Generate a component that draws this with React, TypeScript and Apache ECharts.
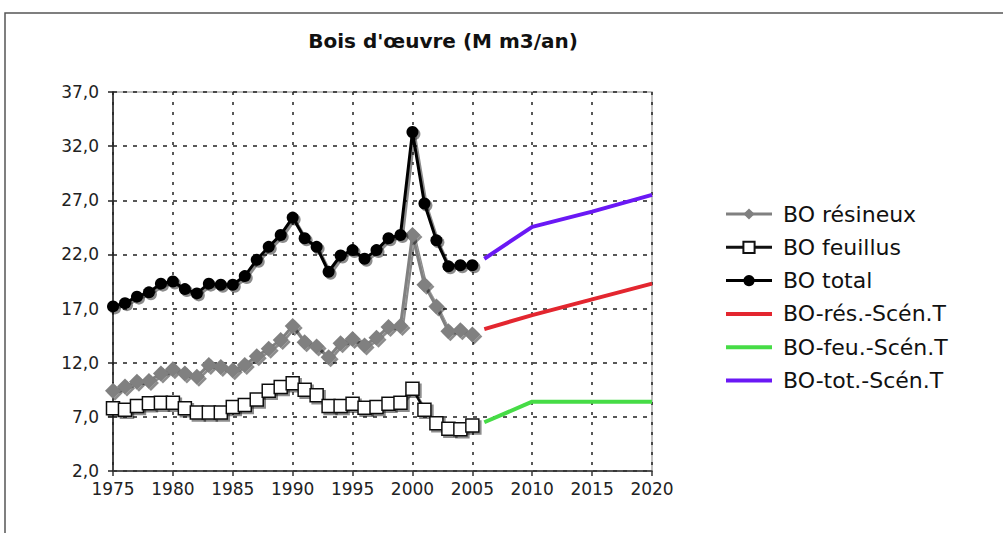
import React, { useEffect, useRef } from "react";
import * as echarts from "echarts";

const years = [
  1975, 1976, 1977, 1978, 1979, 1980, 1981, 1982, 1983, 1984, 1985, 1986, 1987, 1988, 1989, 1990,
  1991, 1992, 1993, 1994, 1995, 1996, 1997, 1998, 1999, 2000, 2001, 2002, 2003, 2004, 2005,
];
const resineux = [
  9.4, 9.8, 10.25, 10.3, 11.0, 11.4, 11.0, 10.7, 11.8, 11.6, 11.3, 11.8, 12.6, 13.3, 14.1, 15.4,
  13.9, 13.5, 12.5, 13.8, 14.2, 13.6, 14.3, 15.3, 15.4, 23.8, 19.2, 17.2, 14.9, 15.0, 14.6,
];
const feuillus = [
  7.8, 7.65, 8.0, 8.25, 8.3, 8.3, 7.8, 7.4, 7.4, 7.4, 7.9, 8.1, 8.6, 9.4, 9.75, 10.1, 9.5, 9.0,
  8.0, 8.0, 8.2, 7.85, 7.9, 8.2, 8.3, 9.6, 7.65, 6.4, 5.9, 5.85, 6.2,
];
const total = [
  17.2, 17.5, 18.1, 18.5, 19.3, 19.5, 18.8, 18.4, 19.3, 19.2, 19.2, 20.0, 21.5, 22.7, 23.8, 25.4,
  23.5, 22.7, 20.4, 21.9, 22.4, 21.6, 22.4, 23.5, 23.8, 33.3, 26.7, 23.3, 20.9, 21.0, 21.0,
];
const scenYears = [2006, 2010, 2015, 2020];
const scenRes = [15.1, 16.4, 17.85, 19.3];
const scenFeu = [6.5, 8.4, 8.4, 8.4];
const scenTot = [21.6, 24.55, 25.95, 27.5];

const seriesNames = [
  "BO résineux",
  "BO feuillus",
  "BO total",
  "BO-rés.-Scén.T",
  "BO-feu.-Scén.T",
  "BO-tot.-Scén.T",
];

const pair = (xs: number[], ys: number[]) => xs.map((x, i) => [x, ys[i]]);

export default function App() {
  const ref = useRef<HTMLDivElement>(null);
  useEffect(() => {
    if (!ref.current) return;
    const chart = echarts.init(ref.current, null, { renderer: "svg" });
    const font = "DejaVu Sans, Verdana, sans-serif";
    const shadow = {
      shadowColor: "rgba(0,0,0,0.45)",
      shadowOffsetX: 2,
      shadowOffsetY: 2,
      shadowBlur: 1,
    };
    chart.setOption({
      animation: false,
      backgroundColor: "#fff",
      graphic: [
        {
          type: "rect",
          shape: { x: 5, y: 13, width: 1100, height: 600 },
          style: { fill: "none", stroke: "#555", lineWidth: 1.5 },
          silent: true,
        },
        {
          type: "text",
          x: 443,
          y: 41,
          style: {
            text: "Bois d'œuvre (M m3/an)",
            fontFamily: font,
            fontWeight: "bold",
            fontSize: 20,
            fill: "#111",
            textAlign: "center",
            textVerticalAlign: "middle",
          },
        },
      ],
      grid: {
        left: 113,
        right: 351,
        top: 92,
        bottom: 62,
        show: true,
        borderColor: "#aaa",
        borderWidth: 1.5,
      },
      legend: {
        data: [
          { name: seriesNames[0], lineStyle: { width: 3 } },
          { name: seriesNames[1], lineStyle: { width: 3 } },
          { name: seriesNames[2], lineStyle: { width: 3 } },
          { name: seriesNames[3], itemStyle: { opacity: 0 }, lineStyle: { width: 4 } },
          { name: seriesNames[4], itemStyle: { opacity: 0 }, lineStyle: { width: 4 } },
          { name: seriesNames[5], itemStyle: { opacity: 0 }, lineStyle: { width: 4 } },
        ],
        orient: "vertical",
        left: 724,
        top: 202,
        padding: 0,
        itemWidth: 46,
        itemHeight: 14,
        itemGap: 9.3,
        textStyle: {
          fontFamily: font,
          fontSize: 22,
          color: "#111",
          padding: [0, 0, 0, 6],
          lineHeight: 24,
        },
      },
      xAxis: {
        type: "value",
        min: 1975,
        max: 2020,
        interval: 5,
        axisLine: { show: true, lineStyle: { color: "#333", width: 1.5 } },
        axisTick: { show: true, length: 5, lineStyle: { color: "#333", width: 1.5 } },
        axisLabel: {
          formatter: (v: number) => String(v),
          fontFamily: font,
          fontSize: 17,
          color: "#222",
          margin: 9,
        },
        splitLine: {
          show: true,
          lineStyle: { color: "#222", type: [3, 7], width: 1.5 },
        },
      },
      yAxis: {
        type: "value",
        min: 2,
        max: 37,
        interval: 5,
        axisLine: { show: true, lineStyle: { color: "#222", width: 1.5 } },
        axisTick: { show: true, length: 5, lineStyle: { color: "#222", width: 1.5 } },
        axisLabel: {
          formatter: (v: number) => v.toFixed(1).replace(".", ","),
          fontFamily: font,
          fontSize: 17,
          color: "#222",
          margin: 14,
        },
        splitLine: {
          show: true,
          lineStyle: { color: "#222", type: [4, 6], width: 1.5 },
        },
      },
      series: [
        {
          name: seriesNames[0],
          type: "line",
          data: pair(years, resineux),
          symbol: "diamond",
          symbolSize: 16,
          itemStyle: { color: "#808080", ...shadow },
          lineStyle: { color: "#808080", width: 3, ...shadow },
          z: 3,
        },
        {
          name: seriesNames[1],
          type: "line",
          data: pair(years, feuillus),
          symbol: "rect",
          symbolSize: 13,
          itemStyle: { color: "#fff", borderColor: "#111", borderWidth: 1.5, ...shadow },
          lineStyle: { color: "#111", width: 2.5, ...shadow },
          z: 4,
        },
        {
          name: seriesNames[2],
          type: "line",
          data: pair(years, total),
          symbol: "circle",
          symbolSize: 12,
          itemStyle: { color: "#000", ...shadow },
          lineStyle: { color: "#000", width: 3, ...shadow },
          z: 5,
        },
        {
          name: seriesNames[3],
          type: "line",
          data: pair(scenYears, scenRes),
          symbol: "none",
          itemStyle: { color: "#e3262f" },
          lineStyle: { color: "#e3262f", width: 4 },
        },
        {
          name: seriesNames[4],
          type: "line",
          data: pair(scenYears, scenFeu),
          symbol: "none",
          itemStyle: { color: "#46dc46" },
          lineStyle: { color: "#46dc46", width: 4 },
        },
        {
          name: seriesNames[5],
          type: "line",
          data: pair(scenYears, scenTot),
          symbol: "none",
          itemStyle: { color: "#6a18f5" },
          lineStyle: { color: "#6a18f5", width: 4 },
        },
      ],
    });
    return () => chart.dispose();
  }, []);
  return (
    <div
      ref={ref}
      style={{ position: "absolute", left: 0, top: 0, width: 1003, height: 533 }}
    />
  );
}
